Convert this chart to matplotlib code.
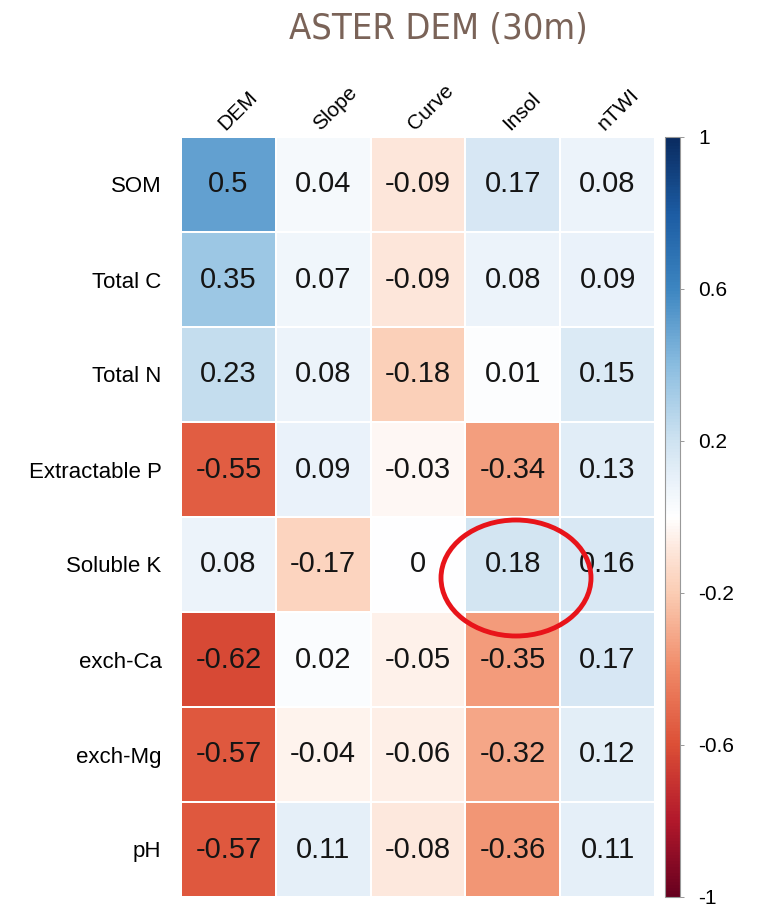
import numpy as np
import matplotlib
matplotlib.use("Agg")
import matplotlib.pyplot as plt
from matplotlib.patches import Ellipse
from matplotlib.colors import LinearSegmentedColormap

# Correlation values
row_labels = ["SOM", "Total C", "Total N", "Extractable P", "Soluble K",
              "exch-Ca", "exch-Mg", "pH"]
col_labels = ["DEM", "Slope", "Curve", "Insol", "nTWI"]

som = [0.5, 0.04, -0.09, 0.17, 0.08]
total_c = [0.35, 0.07, -0.09, 0.08, 0.09]
total_n = [0.23, 0.08, -0.18, 0.01, 0.15]
extract_p = [-0.55, 0.09, -0.03, -0.34, 0.13]
soluble_k = [0.08, -0.17, 0, 0.18, 0.16]
exch_ca = [-0.62, 0.02, -0.05, -0.35, 0.17]
exch_mg = [-0.57, -0.04, -0.06, -0.32, 0.12]
ph = [-0.57, 0.11, -0.08, -0.36, 0.11]

cbar_ticks = [1, 0.6, 0.2, -0.2, -0.6, -1]
cbar_ticklabels = ["1", "0.6", "0.2", "-0.2", "-0.6", "-1"]

values = np.array([som, total_c, total_n, extract_p, soluble_k,
                   exch_ca, exch_mg, ph])

# red-white-blue map, a bit more saturated than plain RdBu
cmap = LinearSegmentedColormap.from_list("rwb", [
    (0.00, "#67001f"), (0.10, "#b2182b"), (0.20, "#dc4f36"),
    (0.30, "#f08a68"), (0.40, "#fbcdb4"), (0.45, "#fde3d6"),
    (0.50, "#ffffff"), (0.55, "#e8f1f9"), (0.60, "#cfe3f1"),
    (0.70, "#8bbde0"), (0.80, "#3d86c1"), (0.90, "#1c5ca3"),
    (1.00, "#0a2b60")])

W, H = 759, 908
fig = plt.figure(figsize=(W / 100, H / 100), dpi=100)

# main heatmap axes (pixel box 181..655 x 137..897)
top, bot = 137, 897
ax = fig.add_axes([181 / W, 1 - bot / H, (655 - 181) / W, (bot - top) / H])
cax = fig.add_axes([665 / W, 1 - bot / H, 15 / W, (bot - top) / H])

mesh = ax.pcolormesh(values, cmap=cmap, vmin=-1, vmax=1,
                     edgecolors="white", linewidth=1.2)
ax.set_xlim(0, values.shape[1])
ax.set_ylim(values.shape[0], 0)

for i in range(values.shape[0]):
    for j in range(values.shape[1]):
        v = values[i, j]
        txt = "0" if v == 0 else f"{v:g}"
        ax.text(j + 0.5, i + 0.5, txt, ha="center", va="center",
                fontsize=21, color="#151515", family="Liberation Sans")

ax.set_xticks(np.arange(len(col_labels)) + 0.5)
ax.set_xticklabels(col_labels, rotation=45, ha="left", va="bottom",
                   rotation_mode="anchor", fontsize=15, family="Liberation Sans")
ax.xaxis.tick_top()
ax.set_yticks(np.arange(len(row_labels)) + 0.5)
ax.set_yticklabels(row_labels, fontsize=16, family="Liberation Sans")
ax.tick_params(length=0, pad=14)
ax.tick_params(axis="x", pad=2)
for s in ax.spines.values():
    s.set_visible(False)

cb = fig.colorbar(mesh, cax=cax)
cb.set_ticks(cbar_ticks)
cb.set_ticklabels(cbar_ticklabels)
cb.ax.tick_params(labelsize=15, length=3, width=0.6, color="#888888", pad=10)
for lab in cb.ax.get_yticklabels():
    lab.set_family("Liberation Sans")
cb.outline.set_edgecolor("#999999")
cb.outline.set_linewidth(0.8)

fig.text(438 / W, 1 - 29 / H, "ASTER DEM (30m)", ha="center", va="center",
         fontsize=26, color="#7a6358", family="DejaVu Sans",
         fontstretch="condensed")

# red circle highlighting Soluble K / Insol
circ = Ellipse((516 / W, 1 - 578 / H), 150 / W, 116 / H,
               transform=fig.transFigure, fill=False,
               edgecolor="#e8141a", linewidth=3.5)
fig.patches.append(circ)

fig.savefig("out.png", dpi=100)
